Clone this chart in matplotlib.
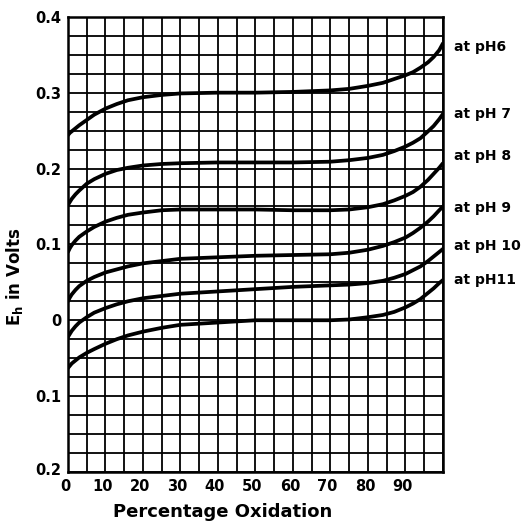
import matplotlib
matplotlib.use("Agg")
import matplotlib.pyplot as plt
import matplotlib.transforms as mtransforms
import numpy as np

x = [0, 0.5, 1, 2, 3, 5, 7, 10, 13, 16, 20, 25, 30, 40, 50, 60, 70, 75, 80,
     84, 87, 90, 92, 94, 96, 97.5, 99, 100]

# E_h in volts
eh_ph6 = [0.244, 0.247, 0.249, 0.253, 0.257, 0.264, 0.271, 0.279, 0.285, 0.290,
          0.294, 0.297, 0.299, 0.300, 0.300, 0.301, 0.303, 0.305, 0.309,
          0.313, 0.318, 0.323, 0.327, 0.333, 0.340, 0.347, 0.356, 0.365]
eh_ph7 = [0.152, 0.156, 0.160, 0.166, 0.171, 0.180, 0.186, 0.193, 0.198, 0.201,
          0.204, 0.206, 0.207, 0.208, 0.208, 0.208, 0.209, 0.211, 0.214,
          0.218, 0.223, 0.229, 0.234, 0.240, 0.249, 0.256, 0.265, 0.272]
eh_ph8 = [0.090, 0.095, 0.099, 0.105, 0.110, 0.117, 0.123, 0.130, 0.135, 0.139,
          0.142, 0.145, 0.146, 0.146, 0.146, 0.145, 0.145, 0.146, 0.149,
          0.153, 0.158, 0.164, 0.169, 0.176, 0.185, 0.193, 0.201, 0.207]
eh_ph9 = [0.025, 0.030, 0.034, 0.040, 0.045, 0.052, 0.057, 0.063, 0.067, 0.071,
          0.075, 0.078, 0.081, 0.083, 0.085, 0.086, 0.087, 0.089, 0.093,
          0.098, 0.103, 0.109, 0.115, 0.122, 0.130, 0.137, 0.145, 0.150]
eh_ph10 = [-0.022, -0.018, -0.014, -0.008, -0.003, 0.004, 0.010, 0.016, 0.021, 0.025,
           0.029, 0.032, 0.035, 0.038, 0.041, 0.044, 0.046, 0.047, 0.049,
           0.052, 0.056, 0.061, 0.066, 0.071, 0.078, 0.084, 0.090, 0.094]
eh_ph11 = [-0.063, -0.060, -0.057, -0.053, -0.049, -0.043, -0.038, -0.031, -0.025, -0.020,
           -0.015, -0.010, -0.006, -0.003, 0.000, 0.000, 0.000, 0.001, 0.004,
           0.007, 0.011, 0.017, 0.022, 0.028, 0.036, 0.042, 0.049, 0.053]

curves = [eh_ph6, eh_ph7, eh_ph8, eh_ph9, eh_ph10, eh_ph11]
curve_labels = ['at pH6', 'at pH 7', 'at pH 8', 'at pH 9', 'at pH 10', 'at pH11']
label_y = [0.360, 0.272, 0.217, 0.148, 0.098, 0.053]

xticks = [0, 10, 20, 30, 40, 50, 60, 70, 80, 90]
yticks = [0.4, 0.3, 0.2, 0.1, 0, -0.1, -0.2]
ytick_labels = ['0.4', '0.3', '0.2', '0.1', '0', '0.1', '0.2']

fnt = dict(family='DejaVu Sans', weight='bold', size=10.5)

fig = plt.figure(figsize=(5.23, 5.25), dpi=100)
ax = fig.add_axes([0.130, 0.101, 0.717, 0.867])

# graph paper
for gx in np.arange(0, 101, 5):
    ax.axvline(gx, color='black', lw=1.3, zorder=1)
for gy in np.arange(-0.2, 0.4001, 0.025):
    ax.axhline(gy, color='black', lw=1.3, zorder=1)

for yy in curves:
    ax.plot(x, yy, color='black', lw=2.7, solid_capstyle='round',
            solid_joinstyle='round', zorder=3)

for lab, ly in zip(curve_labels, label_y):
    ax.text(103.0, ly, lab, ha='left', va='center', clip_on=False,
            family='DejaVu Sans', weight='bold', size=10)

ax.set_xlim(0, 100)
ax.set_ylim(-0.2, 0.4)
ax.set_xticks(xticks)
ax.set_xticklabels([str(t) for t in xticks], **fnt)
ax.set_yticks(yticks)
ax.set_yticklabels(ytick_labels, **fnt)
ax.tick_params(axis='y', length=0, pad=5)
ax.tick_params(axis='x', length=0, pad=5)
for sp in ax.spines.values():
    sp.set_linewidth(1.8)

# tick labels sit a little left of the grid lines in the original
off = mtransforms.ScaledTranslation(-3 / 100, 0, fig.dpi_scale_trans)
for t in ax.get_xticklabels():
    t.set_transform(t.get_transform() + off)
ax.get_yticklabels()[-1].set_transform(
    ax.get_yticklabels()[-1].get_transform()
    + mtransforms.ScaledTranslation(0, 3 / 100, fig.dpi_scale_trans))

fig.text(223 / 523, 1 - 512 / 525, 'Percentage Oxidation', ha='center', va='center',
         family='DejaVu Sans', weight='bold', size=13)
fig.text(15 / 523, 1 - 277 / 525, r'E$_\mathbf{h}$ in Volts', ha='center', va='center',
         rotation=90, family='DejaVu Sans', weight='bold', size=12)

fig.savefig('out.png', dpi=100)
